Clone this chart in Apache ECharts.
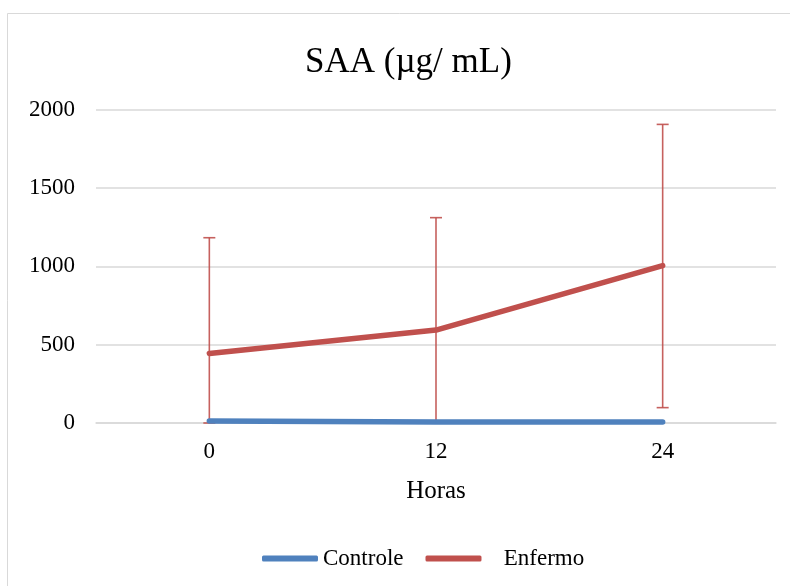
<!DOCTYPE html>
<html>
<head>
<meta charset="utf-8">
<script src="https://cdn.jsdelivr.net/npm/echarts@6/dist/echarts.min.js"></script>
<style>html,body{margin:0;padding:0;background:#fff;}#c{width:790px;height:586px;}</style>
</head>
<body>
<div id="c"></div>
<script>
const categories = ['0', '12', '24'];
const controle = [12, 7, 7];
const enfermo = [444, 593, 1004];
const enfermoLow = [0, 0, 98];
const enfermoHigh = [1182, 1310, 1905];
const yTicks = { min: 0, max: 2000, interval: 500 };

const FONT = '"Liberation Serif", "Times New Roman", serif';
const chart = echarts.init(document.getElementById('c'), null, { renderer: 'canvas' });

const errData = categories.map((c, i) => [i, enfermoLow[i], enfermoHigh[i]]);

chart.setOption({
  backgroundColor: '#fff',
  animation: false,
  graphic: [{
    type: 'rect', shape: { x: 7.5, y: 13.5, width: 820, height: 620 },
    style: { fill: 'none', stroke: '#d9d9d9', lineWidth: 1 }, z: -10
  }],
  title: {
    text: 'SAA (µg/ mL)', left: 300, top: 40,
    textStyle: { fontFamily: FONT, fontSize: 35, fontWeight: 'normal', color: '#000' }
  },
  grid: { left: 96, right: 14, top: 109.5, bottom: 163, containLabel: false },
  legend: {
    top: 542, left: 257, itemWidth: 56, itemHeight: 6, itemGap: 22,
    icon: 'roundRect',
    textStyle: { fontFamily: FONT, fontSize: 23, color: '#000' },
    formatter: function (name) { return name === 'Enfermo' ? '   ' + name : name; },
    data: ['Controle', 'Enfermo']
  },
  xAxis: {
    type: 'category', data: categories, boundaryGap: true,
    name: 'Horas', nameLocation: 'middle', nameGap: 56,
    nameTextStyle: { fontFamily: FONT, fontSize: 25, color: '#000' },
    axisLine: { lineStyle: { color: '#d9d9d9', width: 1.5 } },
    axisTick: { show: false },
    axisLabel: { fontFamily: FONT, fontSize: 23, color: '#000', margin: 17 }
  },
  yAxis: {
    type: 'value', min: yTicks.min, max: yTicks.max, interval: yTicks.interval,
    axisLine: { show: false }, axisTick: { show: false },
    splitLine: { lineStyle: { color: '#d9d9d9', width: 1.5 } },
    axisLabel: { fontFamily: FONT, fontSize: 23, color: '#000', margin: 21,
      formatter: function (v) { return String(v); } }
  },
  series: [
    {
      name: 'Enfermo', type: 'line', data: enfermo, symbol: 'none',
      lineStyle: { color: '#C0504D', width: 5.5, cap: 'round' },
      itemStyle: { color: '#C0504D' }, z: 3
    },
    {
      name: 'Enfermo error', type: 'custom', data: errData, z: 2,
      renderItem: function (params, api) {
        const x = api.value(0);
        const lo = api.coord([x, api.value(1)]);
        const hi = api.coord([x, api.value(2)]);
        const hw = 6;
        const st = { stroke: '#C0504D', lineWidth: 1.6, opacity: 0.9 };
        return {
          type: 'group', children: [
            { type: 'line', shape: { x1: hi[0], y1: hi[1], x2: lo[0], y2: lo[1] }, style: st },
            { type: 'line', shape: { x1: hi[0] - hw, y1: hi[1], x2: hi[0] + hw, y2: hi[1] }, style: st },
            { type: 'line', shape: { x1: lo[0] - hw, y1: lo[1], x2: lo[0] + hw, y2: lo[1] }, style: st }
          ]
        };
      }
    },
    {
      name: 'Controle', type: 'line', data: controle, symbol: 'none',
      lineStyle: { color: '#4F81BD', width: 5.5, cap: 'round' },
      itemStyle: { color: '#4F81BD' }, z: 4
    }
  ]
});
</script>
</body>
</html>
